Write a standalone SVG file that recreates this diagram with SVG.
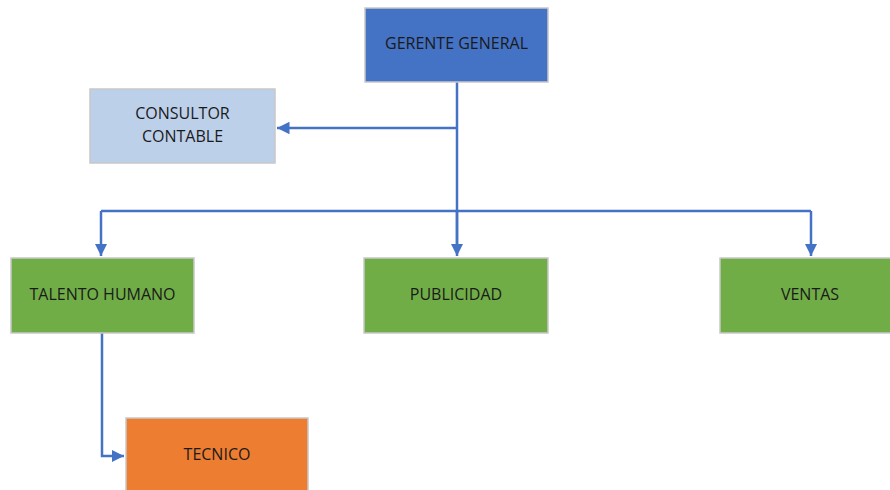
<svg xmlns="http://www.w3.org/2000/svg" width="890" height="490" viewBox="0 0 890 490">
<defs>
<marker id="ah" viewBox="0 0 10 10" refX="10" refY="5" markerWidth="5" markerHeight="5" orient="auto" markerUnits="strokeWidth">
<path d="M0,0 L10,5 L0,10 z" fill="#4472C4"/>
</marker>
<style>
.n{stroke:#C8C8C8;stroke-width:1.5}
.t{font-family:"Open Sans","Liberation Sans",sans-serif;font-size:16px;fill:#1a1a1a;text-anchor:middle;dominant-baseline:middle}
.c{fill:none;stroke:#4472C4;stroke-width:2.5}
</style>
</defs>
<rect width="890" height="490" fill="#fff"/>
<g id="connectors">
<path class="c" d="M457,82 V248"/>
<path class="c" d="M457,128 H277" marker-end="url(#ah)"/>
<path class="c" d="M101,211 H811"/>
<path class="c" d="M101,211 V256" marker-end="url(#ah)"/>
<path class="c" d="M811,211 V256" marker-end="url(#ah)"/>
<path class="c" d="M457,211 V256" marker-end="url(#ah)"/>
<path class="c" d="M102,333 V456 H124" marker-end="url(#ah)"/>
</g>
<g id="gerente">
<rect class="n" x="365" y="8" width="183" height="74" fill="#4472C4"/>
<text class="t" x="456.5" y="45">GERENTE GENERAL</text>
</g>
<g id="consultor">
<rect class="n" x="90" y="89" width="185" height="74" fill="#BDD0EA"/>
<text class="t" x="182.5" y="115">CONSULTOR</text>
<text class="t" x="182.5" y="138">CONTABLE</text>
</g>
<g id="talento">
<rect class="n" x="11" y="258" width="183" height="75" fill="#70AD47"/>
<text class="t" x="102.5" y="296">TALENTO HUMANO</text>
</g>
<g id="publicidad">
<rect class="n" x="364" y="258" width="184" height="75" fill="#70AD47"/>
<text class="t" x="456" y="296">PUBLICIDAD</text>
</g>
<g id="ventas">
<rect class="n" x="720" y="258" width="175" height="75" fill="#70AD47"/>
<text class="t" x="810" y="296">VENTAS</text>
</g>
<g id="tecnico">
<rect class="n" x="126" y="418" width="182" height="80" fill="#ED7D31"/>
<text class="t" x="217" y="456">TECNICO</text>
</g>
</svg>
